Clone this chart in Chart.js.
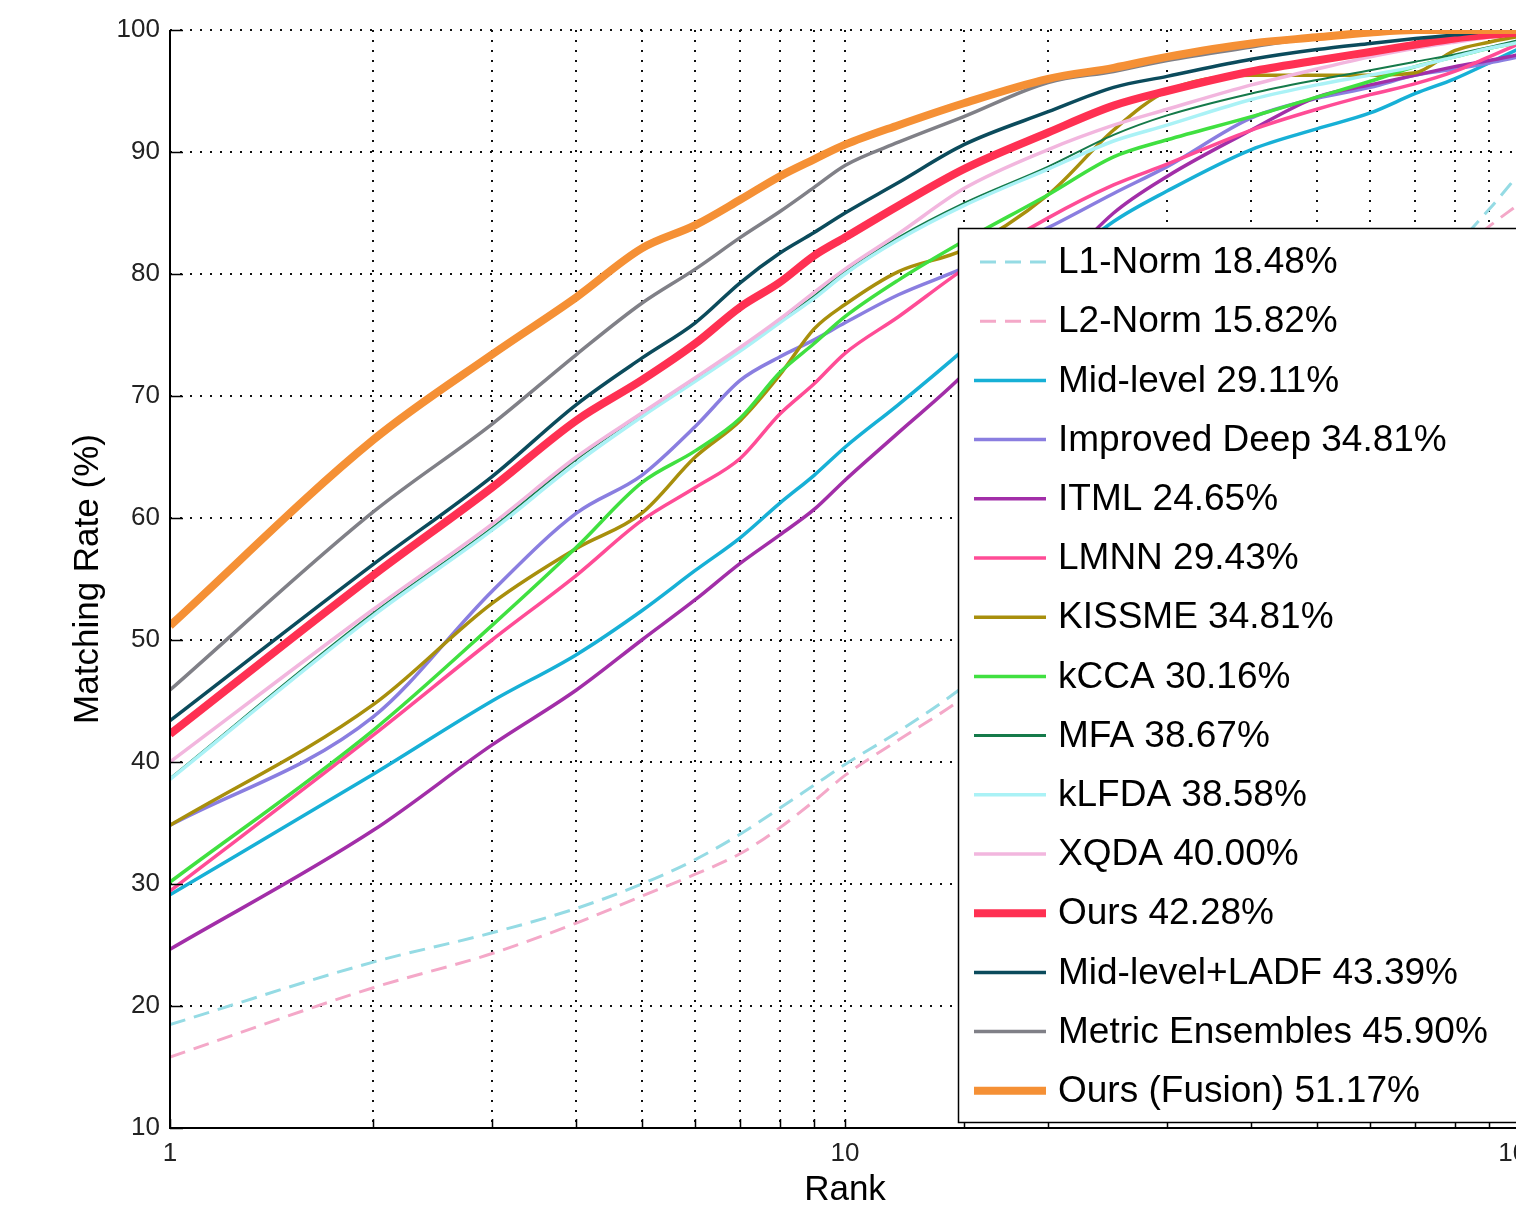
<!DOCTYPE html>
<html>
<head>
<meta charset="utf-8">
<script src="https://cdn.jsdelivr.net/npm/chart.js@4.4.0/dist/chart.umd.min.js"></script>
<style>
  html, body { margin: 0; padding: 0; background: #fff; overflow: hidden; }
  #wrap { position: absolute; left: 0; top: 0; width: 1560px; height: 1212px; }
</style>
</head>
<body>
<div id="wrap"><canvas id="cmcChart"></canvas></div>
<script>
// ranks (x) shared by every curve
const ranks = [1, 2, 3, 4, 5, 6, 7, 8, 9, 10, 12, 15, 20, 25, 30, 40, 50, 60, 70, 80, 90, 100];
const xTickLabels = [1, 10, 100];
const yTicks = [10, 20, 30, 40, 50, 60, 70, 80, 90, 100];

const methods = [
  "L1-Norm 18.48%", "L2-Norm 15.82%", "Mid-level 29.11%", "Improved Deep 34.81%",
  "ITML 24.65%", "LMNN 29.43%", "KISSME 34.81%", "kCCA 30.16%", "MFA 38.67%",
  "kLFDA 38.58%", "XQDA 40.00%", "Ours 42.28%", "Mid-level+LADF 43.39%",
  "Metric Ensembles 45.90%", "Ours (Fusion) 51.17%"
];

// matching rate (%) per rank
const l1Norm       = [18.48, 23.6, 26.0, 28.0, 30.0, 32.0, 34.1, 36.2, 38.1, 39.8, 42.5, 46.2, 52.0, 57.0, 61.0, 68.0, 73.0, 77.0, 80.0, 82.3, 85.3, 88.3];
const l2Norm       = [15.82, 21.5, 24.3, 26.8, 29.0, 30.8, 32.5, 34.6, 36.8, 38.9, 41.8, 45.3, 51.0, 56.0, 60.0, 67.0, 72.0, 76.0, 79.0, 81.5, 83.9, 85.8];
const midLevel     = [29.11, 39.0, 45.0, 48.8, 52.4, 55.7, 58.4, 61.2, 63.5, 65.8, 69.3, 73.8, 80.0, 84.3, 86.8, 90.2, 91.9, 93.2, 94.8, 96.0, 97.3, 98.5];
const improvedDeep = [34.81, 43.7, 54.0, 60.4, 63.5, 67.5, 71.3, 73.2, 74.6, 76.0, 78.3, 80.5, 83.8, 86.6, 88.8, 92.8, 94.4, 95.3, 96.3, 96.8, 97.3, 97.8];
const itml         = [24.65, 34.4, 41.4, 45.9, 50.0, 53.3, 56.3, 58.6, 60.7, 63.1, 67.0, 71.8, 79.5, 85.0, 88.0, 91.8, 94.5, 95.5, 96.3, 97.0, 97.5, 98.0];
const lmnn         = [29.43, 42.2, 50.0, 55.3, 59.8, 62.5, 64.9, 68.5, 71.0, 73.5, 76.5, 80.4, 84.6, 87.3, 89.0, 91.8, 93.5, 94.7, 95.6, 96.6, 97.8, 98.9];
const kissme       = [34.81, 44.7, 53.0, 57.5, 60.4, 65.0, 68.0, 71.7, 75.5, 77.5, 80.2, 82.0, 86.5, 91.8, 95.0, 96.3, 96.3, 96.3, 96.5, 98.3, 99.0, 99.5];
const kcca         = [30.16, 42.6, 51.2, 57.6, 62.9, 65.5, 68.2, 71.9, 74.3, 76.5, 79.5, 82.7, 86.5, 89.6, 91.0, 92.9, 94.5, 95.8, 97.0, 97.8, 98.5, 99.0];
const mfa          = [38.67, 52.2, 59.2, 64.8, 68.5, 71.4, 74.0, 76.2, 78.2, 80.2, 83.0, 85.8, 88.8, 91.4, 93.0, 94.8, 95.9, 96.7, 97.4, 98.0, 98.6, 99.2];
const klfda        = [38.58, 52.0, 59.0, 64.5, 68.3, 71.2, 73.7, 76.0, 78.0, 80.0, 82.8, 85.6, 88.6, 90.9, 92.2, 94.3, 95.5, 96.3, 97.0, 97.8, 98.5, 99.0];
const xqda         = [40.00, 52.5, 59.5, 65.0, 68.6, 71.5, 74.0, 76.3, 78.5, 80.4, 83.3, 87.0, 90.2, 92.2, 93.5, 95.5, 96.8, 97.8, 98.5, 99.0, 99.4, 99.7];
const ours         = [42.28, 55.3, 62.5, 68.0, 71.3, 74.3, 77.3, 79.3, 81.5, 83.0, 85.6, 88.6, 91.6, 93.8, 95.0, 96.6, 97.5, 98.2, 98.8, 99.3, 99.6, 99.8];
const midLevelLadf = [43.39, 56.2, 63.4, 69.3, 73.1, 76.0, 79.3, 81.7, 83.4, 85.0, 87.5, 90.6, 93.3, 95.3, 96.2, 97.6, 98.4, 98.9, 99.3, 99.6, 99.9, 100];
const metricEns    = [45.90, 60.5, 67.7, 73.4, 77.6, 80.4, 83.0, 85.1, 87.1, 88.9, 90.8, 92.9, 95.7, 96.6, 97.5, 98.6, 99.4, 99.8, 100, 100, 100, 100];
const fusion       = [51.17, 66.4, 73.4, 78.1, 82.1, 84.0, 86.1, 88.0, 89.4, 90.6, 92.2, 94.0, 96.0, 96.9, 97.8, 98.9, 99.4, 99.8, 100, 100, 100, 100];

const series = [l1Norm, l2Norm, midLevel, improvedDeep, itml, lmnn, kissme, kcca, mfa, klfda, xqda, ours, midLevelLadf, metricEns, fusion];

const colors = ["#95dbe4", "#f4a8c8", "#17b0d6", "#8a7ee0", "#a22ea8", "#ff4c96", "#a88f0c",
                "#40e040", "#157a4a", "#aaf2f6", "#f2b6de", "#ff3052", "#0b4b5c", "#808087", "#f59035"];
const widths = [3, 3, 3.5, 3.5, 3.5, 3.5, 3.5, 3.5, 2, 3.5, 3.5, 8, 3.5, 3.5, 8];
const dashed = [true, true];

const datasets = methods.map((name, i) => ({
  label: name,
  data: ranks.map((r, k) => ({ x: r, y: series[i][k] })),
  borderColor: colors[i],
  backgroundColor: colors[i],
  borderWidth: widths[i],
  borderDash: dashed[i] ? [16, 9] : [],
  pointRadius: 0,
  cubicInterpolationMode: "monotone",
  fill: false,
  order: methods.length - i   // later curves sit on top, like the plot order
}));

// solid axis lines + inward ticks like matlab
const innerTicks = {
  id: "innerTicks",
  afterDatasetsDraw(chart) {
    const ctx = chart.ctx, a = chart.chartArea;
    const xs = chart.scales.x, ys = chart.scales.y;
    ctx.save();
    ctx.strokeStyle = "#000";
    ctx.setLineDash([]);
    ctx.lineWidth = 2;
    ctx.beginPath();
    ctx.moveTo(a.left, a.top);
    ctx.lineTo(a.left, a.bottom);
    ctx.lineTo(a.right + 20, a.bottom);
    ctx.stroke();
    ctx.lineWidth = 1.5;
    ctx.beginPath();
    xs.ticks.forEach(t => {
      const px = Math.round(xs.getPixelForValue(t.value)) + 0.5;
      ctx.moveTo(px, a.bottom);
      ctx.lineTo(px, a.bottom - 9);
    });
    ys.ticks.forEach(t => {
      const py = Math.round(ys.getPixelForValue(t.value)) + 0.5;
      ctx.moveTo(a.left, py);
      ctx.lineTo(a.left + 13, py);
    });
    ctx.stroke();
    ctx.restore();
  }
};

// legend box inside the plot, lower right
const boxLegend = {
  id: "boxLegend",
  afterDraw(chart) {
    const ctx = chart.ctx;
    const left = 958, top = 228, bottom = 1122, right = 1545;
    const firstRow = 262, rowGap = 59.2;
    ctx.save();
    ctx.fillStyle = "#fff";
    ctx.fillRect(left, top, right - left, bottom - top);
    ctx.strokeStyle = "#000";
    ctx.lineWidth = 1.5;
    ctx.strokeRect(left + 0.5, top + 0.5, right - left, bottom - top);
    ctx.font = "37px 'Liberation Sans', Arial, sans-serif";
    ctx.textBaseline = "middle";
    ctx.fillStyle = "#000";
    chart.data.datasets.forEach((ds, i) => {
      const y = firstRow + i * rowGap;
      ctx.beginPath();
      ctx.strokeStyle = ds.borderColor;
      ctx.lineWidth = Math.max(ds.borderWidth, 3);
      ctx.setLineDash(ds.borderDash.length ? [16, 9] : []);
      ctx.moveTo(ds.borderDash.length ? 980 : 974, y);
      ctx.lineTo(1046, y);
      ctx.stroke();
      ctx.setLineDash([]);
      ctx.fillText(ds.label, 1058, y + 1);
    });
    ctx.restore();
  }
};

const axisFont = "'Liberation Sans', Arial, sans-serif";

new Chart(document.getElementById("cmcChart"), {
  type: "line",
  data: { datasets: datasets },
  options: {
    responsive: true,
    maintainAspectRatio: false,
    animation: false,
    layout: { padding: { top: 30, right: 40, left: 0, bottom: 0 } },
    plugins: { legend: { display: false }, tooltip: { enabled: false } },
    scales: {
      x: {
        type: "logarithmic",
        min: 1,
        max: 100,
        afterFit: s => { s.height = 84; },
        border: { display: false, dash: [2, 8] },
        grid: { color: "#111", lineWidth: 2, drawTicks: false },
        ticks: {
          autoSkip: false,
          maxRotation: 0,
          padding: 10,
          color: "#222",
          font: { family: axisFont, size: 26 },
          callback: v => xTickLabels.includes(v) ? String(v) : ""
        },
        title: {
          display: true,
          text: "Rank",
          color: "#000",
          font: { family: axisFont, size: 35 },
          padding: { top: 0, bottom: 1 }
        }
      },
      y: {
        min: 10,
        max: 100,
        afterFit: s => { s.width = 170; },
        afterBuildTicks: s => { s.ticks = yTicks.map(v => ({ value: v })); },
        border: { display: false, dash: [2, 8] },
        grid: { color: "#111", lineWidth: 2, drawTicks: false },
        ticks: {
          padding: 10,
          color: "#222",
          font: { family: axisFont, size: 26 }
        },
        title: {
          display: true,
          text: "Matching Rate (%)",
          color: "#000",
          font: { family: axisFont, size: 35 },
          padding: { top: 67, bottom: 0 }
        }
      }
    }
  },
  plugins: [innerTicks, boxLegend]
});
</script>
</body>
</html>
